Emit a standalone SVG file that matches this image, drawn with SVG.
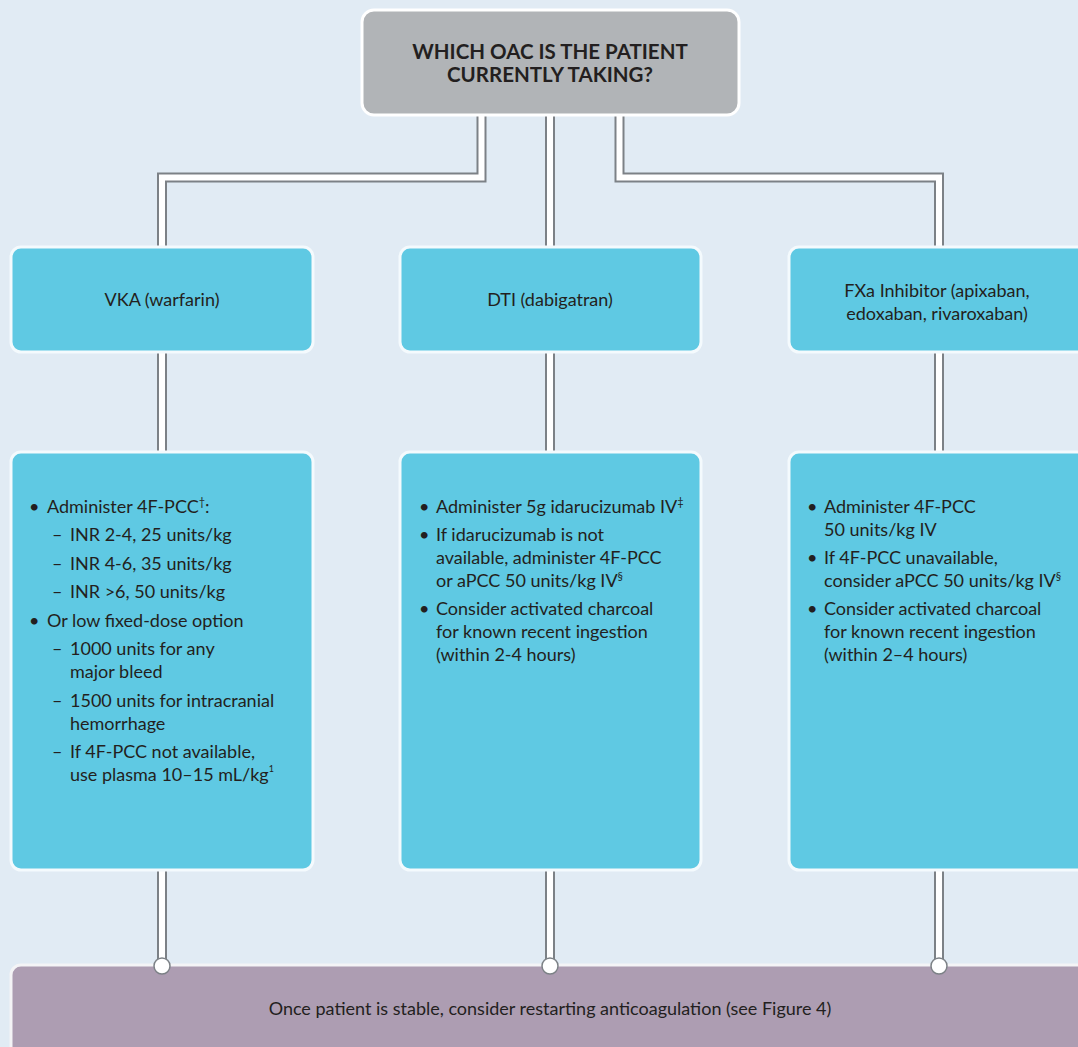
<svg xmlns="http://www.w3.org/2000/svg" width="1078" height="1047" viewBox="0 0 1078 1047">
<style>
.bg{fill:#e1ebf4}
.q{fill:#b1b4b7;stroke:#ffffff;stroke-width:3}
.c{fill:#5fc9e3;stroke:#f4fafd;stroke-width:3}
.p{fill:#ad9db2;stroke:#f4f4f6;stroke-width:3}
.po{fill:none;stroke:#7c8186;stroke-width:10;stroke-linejoin:miter}
.pi{fill:none;stroke:#ffffff;stroke-width:6;stroke-linejoin:miter}
.dot{fill:#ffffff;stroke:#7c8186;stroke-width:1.5}
text{font-family:"Lato","Liberation Sans",sans-serif;fill:#231f20;font-size:18px}
.t{font-weight:bold;font-size:20.5px;text-anchor:middle}
.m{text-anchor:middle}
</style>
<rect class="bg" x="0" y="0" width="1078" height="1047"/>
<g id="connectors">
<path class="po" d="M481.5,114 V177.5 H162 V250"/>
<path class="pi" d="M481.5,114 V177.5 H162 V250"/>
<path class="po" d="M550,114 V250"/>
<path class="pi" d="M550,114 V250"/>
<path class="po" d="M619.5,114 V177.5 H939 V250"/>
<path class="pi" d="M619.5,114 V177.5 H939 V250"/>
<path class="po" d="M162,350 V455"/>
<path class="pi" d="M162,350 V455"/>
<path class="po" d="M550,350 V455"/>
<path class="pi" d="M550,350 V455"/>
<path class="po" d="M939,350 V455"/>
<path class="pi" d="M939,350 V455"/>
<path class="po" d="M162,868 V960"/>
<path class="pi" d="M162,868 V960"/>
<path class="po" d="M550,868 V960"/>
<path class="pi" d="M550,868 V960"/>
<path class="po" d="M939,868 V960"/>
<path class="pi" d="M939,868 V960"/>
</g>
<g id="q-node">
<rect class="q" x="362" y="10" width="377" height="105" rx="12"/>
<text class="t" x="550" y="59">WHICH OAC IS THE PATIENT</text>
<text class="t" x="550" y="82">CURRENTLY TAKING?</text>
</g>
<g id="vka">
<rect class="c" x="11" y="247" width="302" height="105" rx="10"/>
<text class="m" x="162" y="306">VKA (warfarin)</text>
</g>
<g id="dti">
<rect class="c" x="400" y="247" width="301" height="105" rx="10"/>
<text class="m" x="550" y="306">DTI (dabigatran)</text>
</g>
<g id="fxa">
<rect class="c" x="789" y="247" width="300" height="105" rx="10"/>
<text class="m" x="937" y="297">FXa Inhibitor (apixaban,</text>
<text class="m" x="937" y="320">edoxaban, rivaroxaban)</text>
</g>
<g id="vka-tx">
<rect class="c" x="11" y="452" width="302" height="418" rx="10"/>
<text x="29" y="513">•</text><text x="47" y="513">Administer 4F-PCC<tspan font-size="11" dy="-7">†</tspan><tspan dy="7">:</tspan></text>
<text x="52" y="541">–</text><text x="70" y="541">INR 2-4, 25 units/kg</text>
<text x="52" y="570">–</text><text x="70" y="570">INR 4-6, 35 units/kg</text>
<text x="52" y="598">–</text><text x="70" y="598">INR &gt;6, 50 units/kg</text>
<text x="29" y="627">•</text><text x="47" y="627">Or low fixed-dose option</text>
<text x="52" y="655">–</text><text x="70" y="655">1000 units for any</text>
<text x="70" y="678">major bleed</text>
<text x="52" y="707">–</text><text x="70" y="707">1500 units for intracranial</text>
<text x="70" y="730">hemorrhage</text>
<text x="52" y="758">–</text><text x="70" y="758">If 4F-PCC not available,</text>
<text x="70" y="781">use plasma 10–15 mL/kg<tspan font-size="9" dy="-9">1</tspan></text>
</g>
<g id="dti-tx">
<rect class="c" x="400" y="452" width="301" height="418" rx="10"/>
<text x="419" y="513">•</text><text x="436" y="513">Administer 5g idarucizumab IV<tspan font-size="11" dy="-7">‡</tspan></text>
<text x="419" y="541">•</text><text x="436" y="541">If idarucizumab is not</text>
<text x="436" y="564">available, administer 4F-PCC</text>
<text x="436" y="587">or aPCC 50 units/kg IV<tspan font-size="11" dy="-7">§</tspan></text>
<text x="419" y="615">•</text><text x="436" y="615">Consider activated charcoal</text>
<text x="436" y="638">for known recent ingestion</text>
<text x="436" y="661">(within 2-4 hours)</text>
</g>
<g id="fxa-tx">
<rect class="c" x="789" y="452" width="300" height="418" rx="10"/>
<text x="807" y="513">•</text><text x="824" y="513">Administer 4F-PCC</text>
<text x="824" y="536">50 units/kg IV</text>
<text x="807" y="564">•</text><text x="824" y="564">If 4F-PCC unavailable,</text>
<text x="824" y="587">consider aPCC 50 units/kg IV<tspan font-size="11" dy="-7">§</tspan></text>
<text x="807" y="615">•</text><text x="824" y="615">Consider activated charcoal</text>
<text x="824" y="638">for known recent ingestion</text>
<text x="824" y="661">(within 2–4 hours)</text>
</g>
<g id="restart">
<rect class="p" x="11" y="965" width="1080" height="100" rx="10"/>
<text class="m" x="550" y="1015">Once patient is stable, consider restarting anticoagulation (see Figure 4)</text>
</g>
<g id="joints">
<circle class="dot" cx="162" cy="966" r="8"/>
<circle class="dot" cx="550" cy="966" r="8"/>
<circle class="dot" cx="939" cy="966" r="8"/>
</g>
</svg>
